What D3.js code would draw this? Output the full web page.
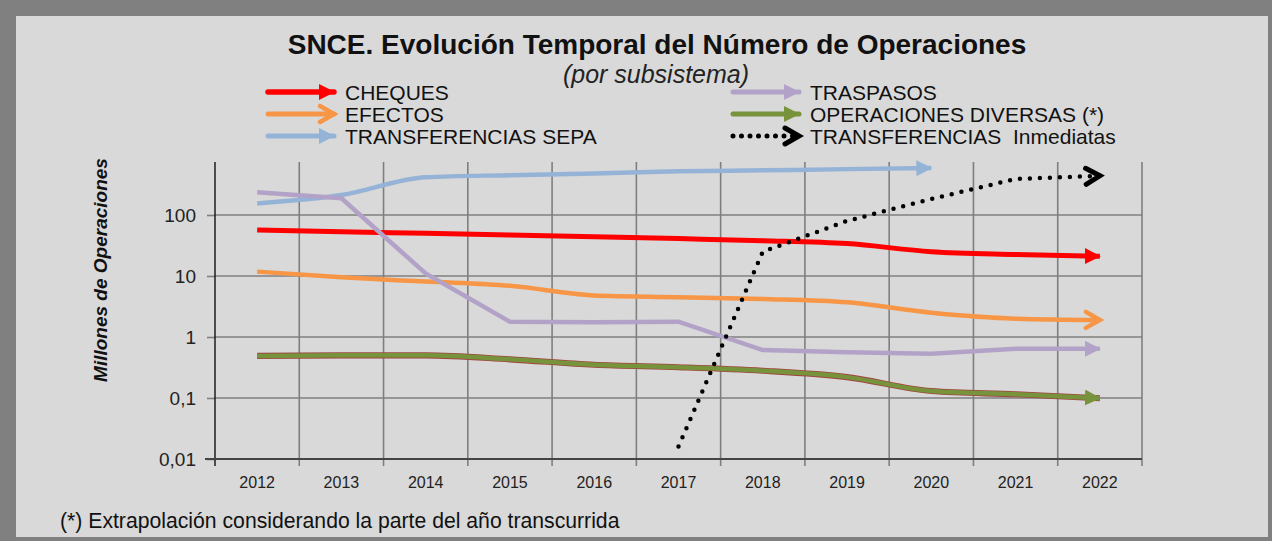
<!DOCTYPE html>
<html>
<head>
<meta charset="utf-8">
<script src="https://cdn.jsdelivr.net/npm/d3@7"></script>
<style>
  html, body { margin: 0; padding: 0; background: #808080; }
  svg { display: block; font-family: "Liberation Sans", Arial, sans-serif; }
</style>
</head>
<body>
<svg id="chart" width="1272" height="541"></svg>
<script>
// ---- datos (millones de operaciones)
const anios = [2012, 2013, 2014, 2015, 2016, 2017, 2018, 2019, 2020, 2021, 2022];
const cheques    = [57, 53, 50, 47, 44, 41, 38, 34, 25, 22.5, 21];
const efectos    = [11.8, 9.5, 8.1, 6.9, 4.8, 4.5, 4.2, 3.7, 2.5, 2.0, 1.9];
const sepa       = [155, 212, 415, 450, 480, 520, 540, 565, 590, null, null];
const traspasos  = [235, 188, 11, 1.78, 1.75, 1.78, 0.61, 0.56, 0.53, 0.64, 0.64];
const diversas   = [0.49, 0.5, 0.5, 0.43, 0.35, 0.32, 0.28, 0.22, 0.13, 0.115, 0.099];
const inmediatas = [null, null, null, null, null, 0.016, 25, 80, 183, 390, 440];

const yTicks = [0.01, 0.1, 1, 10, 100];
const yTickLabels = ['0,01', '0,1', '1', '10', '100'];

const svg = d3.select('#chart');

// ---- marco
svg.append('rect').attr('width', 1272).attr('height', 541).attr('fill', '#808080');
svg.append('rect')
    .attr('x', 16).attr('y', 16)
    .attr('width', 1252).attr('height', 521)
    .attr('fill', '#d9d9d9');

// ---- escalas
const x = d3.scaleBand().domain(anios).range([215, 1142]);
const y = d3.scaleLog().domain([0.01, 100]).range([459, 215]);
const xc = d => x(d) + x.bandwidth() / 2;
const yTop = 162;

// Grid horizontal
svg.append('g')
    .selectAll('line')
    .data(yTicks.slice(1))
    .join('line')
    .attr('x1', 215).attr('x2', 1142)
    .attr('y1', d => y(d)).attr('y2', d => y(d))
    .attr('stroke', '#7f7f7f')
    .attr('stroke-width', 1.6);

// Grid vertical (bordes de categoria)
const bordes = anios.map(d => x(d)).concat([x.range()[1]]);
svg.append('g')
    .selectAll('line')
    .data(bordes.slice(1))
    .join('line')
    .attr('x1', d => d).attr('x2', d => d)
    .attr('y1', yTop).attr('y2', 466)
    .attr('stroke', '#7f7f7f')
    .attr('stroke-width', 1.6);

// Eje Y
svg.append('g')
    .attr('transform', 'translate(215,0)')
    .call(d3.axisLeft(y).tickValues(yTicks).tickSize(8)
        .tickFormat((d, i) => yTickLabels[i]))
    .call(g => g.select('.domain').remove())
    .call(g => g.selectAll('line').attr('stroke', '#7f7f7f').attr('stroke-width', 1.6))
    .call(g => g.selectAll('text')
        .attr('x', -19)
        .attr('fill', '#222')
        .style('font-size', '19px')
        .style('font-family', '"Liberation Sans", Arial, sans-serif'));

svg.append('line')
    .attr('x1', 215).attr('x2', 215)
    .attr('y1', yTop).attr('y2', 466)
    .attr('stroke', '#111').attr('stroke-width', 1.4);

// Eje X
svg.append('line')
    .attr('x1', 205).attr('x2', 1142)
    .attr('y1', 459).attr('y2', 459)
    .attr('stroke', '#444').attr('stroke-width', 1.8);

svg.append('g')
    .attr('transform', 'translate(0,459)')
    .call(d3.axisBottom(x).tickSize(0).tickPadding(18))
    .call(g => g.select('.domain').remove())
    .call(g => g.selectAll('text')
        .attr('fill', '#222')
        .style('font-size', '16px')
        .style('font-family', '"Liberation Sans", Arial, sans-serif'));

// ---- marcadores (flechas)
const defs = svg.append('defs');
function flechaLlena(id, color) {
    defs.append('marker')
        .attr('id', id)
        .attr('markerUnits', 'userSpaceOnUse')
        .attr('viewBox', '0 0 16 16')
        .attr('refX', 15).attr('refY', 8)
        .attr('markerWidth', 16).attr('markerHeight', 16)
        .attr('orient', 'auto')
        .append('path')
        .attr('d', 'M0,0 L16,8 L0,16 Z')
        .attr('fill', color);
}
function flechaAbierta(id, color, w) {
    defs.append('marker')
        .attr('id', id)
        .attr('markerUnits', 'userSpaceOnUse')
        .attr('viewBox', '-4 -4 26 26')
        .attr('refX', 16).attr('refY', 9)
        .attr('markerWidth', 26).attr('markerHeight', 26)
        .attr('orient', 'auto')
        .append('path')
        .attr('d', 'M2,1 L16,9 L2,17')
        .attr('fill', 'none')
        .attr('stroke', color)
        .attr('stroke-width', w)
        .attr('stroke-linecap', 'round')
        .attr('stroke-linejoin', 'miter');
}
flechaLlena('a-rojo', '#ff0000');
flechaAbierta('a-naranja', '#f79646', 4.5);
flechaLlena('a-azul', '#95b3d7');
flechaLlena('a-lila', '#b3a2c7');
flechaLlena('a-verde', '#77933c');
flechaAbierta('a-negro', '#000', 5);

// ---- series
const series = [
    { nombre: 'TRANSFERENCIAS SEPA', valores: sepa, color: '#95b3d7', ancho: 4.5, marca: 'a-azul', curva: d3.curveMonotoneX },
    { nombre: 'CHEQUES', valores: cheques, color: '#ff0000', ancho: 5, marca: 'a-rojo', curva: d3.curveMonotoneX },
    { nombre: 'EFECTOS', valores: efectos, color: '#f79646', ancho: 4.5, marca: 'a-naranja', curva: d3.curveMonotoneX },
    { nombre: 'TRASPASOS', valores: traspasos, color: '#b3a2c7', ancho: 4.5, marca: 'a-lila', curva: d3.curveLinear },
    { nombre: 'OPERACIONES DIVERSAS (*)', valores: diversas, color: '#77933c', ancho: 4.5, marca: 'a-verde', borde: '#a0453f', curva: d3.curveMonotoneX },
    { nombre: 'TRANSFERENCIAS  Inmediatas', valores: inmediatas, color: '#000', ancho: 4.5, marca: 'a-negro', punteado: true, curva: d3.curveLinear }
];

const gLineas = svg.append('g');
series.forEach(s => {
    const linea = d3.line()
        .x(d => xc(d.anio))
        .y(d => y(d.v))
        .curve(s.curva);
    const pts = anios.map((a, i) => ({ anio: a, v: s.valores[i] })).filter(d => d.v != null);
    if (s.borde) {
        gLineas.append('path')
            .attr('d', linea(pts))
            .attr('fill', 'none')
            .attr('stroke', s.borde)
            .attr('stroke-width', s.ancho + 1.6);
    }
    gLineas.append('path')
        .attr('d', linea(pts))
        .attr('fill', 'none')
        .attr('stroke', s.color)
        .attr('stroke-width', s.ancho)
        .attr('stroke-linecap', s.punteado ? 'round' : 'butt')
        .attr('stroke-dasharray', s.punteado ? '0 10' : null)
        .attr('marker-end', `url(#${s.marca})`);
});

// ---- leyenda
const leyenda = [
    { s: series[1], x: 268, y: 92 },
    { s: series[2], x: 268, y: 114 },
    { s: series[0], x: 268, y: 136 },
    { s: series[3], x: 733, y: 92 },
    { s: series[4], x: 733, y: 114 },
    { s: series[5], x: 733, y: 136 }
];
const gLey = svg.append('g');
leyenda.forEach(l => {
    const s = l.s;
    gLey.append('line')
        .attr('x1', l.x).attr('x2', l.x + 66)
        .attr('y1', l.y).attr('y2', l.y)
        .attr('stroke', s.color)
        .attr('stroke-width', s.ancho + 0.5)
        .attr('stroke-linecap', 'round')
        .attr('stroke-dasharray', s.punteado ? '0 8.5' : null)
        .attr('marker-end', `url(#${s.marca})`);
    gLey.append('text')
        .attr('x', l.x + 77)
        .attr('y', l.y + 7.5)
        .attr('fill', '#111')
        .style('font-size', '21px')
        .style('white-space', 'pre')
        .text(s.nombre);
});

// ---- titulos
svg.append('text')
    .attr('x', 657).attr('y', 54)
    .attr('text-anchor', 'middle')
    .attr('fill', '#111')
    .style('font-size', '28px')
    .style('font-weight', 'bold')
    .text('SNCE. Evolución Temporal del Número de Operaciones');

svg.append('text')
    .attr('x', 656).attr('y', 83)
    .attr('text-anchor', 'middle')
    .attr('fill', '#222')
    .style('font-size', '25px')
    .style('font-style', 'italic')
    .text('(por subsistema)');

svg.append('text')
    .attr('transform', 'translate(107,270) rotate(-90)')
    .attr('text-anchor', 'middle')
    .attr('fill', '#111')
    .style('font-size', '19px')
    .style('font-weight', 'bold')
    .style('font-style', 'italic')
    .text('Millones de Operaciones');

svg.append('text')
    .attr('x', 60).attr('y', 528)
    .attr('fill', '#111')
    .style('font-size', '21.2px')
    .text('(*) Extrapolación considerando la parte del año transcurrida');
</script>
</body>
</html>
